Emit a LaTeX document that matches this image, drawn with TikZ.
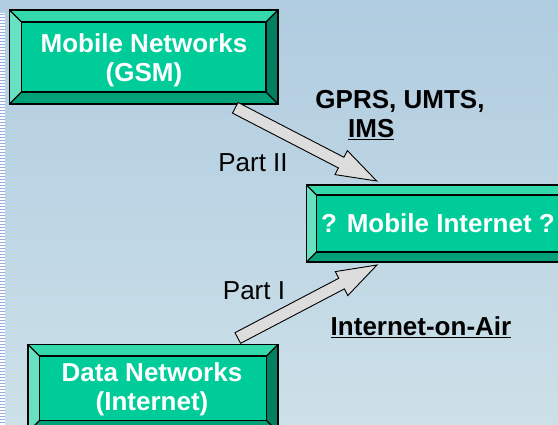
\documentclass[tikz,border=0pt]{standalone}
\usepackage{fontspec}
\setmainfont{Liberation Sans}
\usetikzlibrary{calc}

\definecolor{bgtop}{RGB}{176,204,224}
\definecolor{bgbot}{RGB}{204,224,232}
\definecolor{face}{RGB}{0,204,153}
\definecolor{bevtop}{RGB}{51,217,170}
\definecolor{bevleft}{RGB}{102,226,192}
\definecolor{bevright}{RGB}{0,128,96}
\definecolor{bevbot}{RGB}{0,160,120}
\definecolor{arrowfill}{RGB}{221,221,221}
\definecolor{arrowshade}{RGB}{70,70,70}

\tikzset{
  boxtext/.style={font=\fontsize{26}{29}\selectfont\bfseries, text=white, align=center, inner sep=0pt},
  plaintext/.style={font=\fontsize{26}{29}\selectfont, text=black, inner sep=0pt},
  boldtext/.style={font=\fontsize{26}{29}\selectfont\bfseries, text=black, inner sep=0pt},
  edgeline/.style={draw=black, line width=1.2pt, line join=miter},
  arrowbody/.style={fill=arrowfill, draw=black, line width=0.9pt, line join=miter},
  arrowshadow/.style={fill=arrowshade, draw=none},
}

% bevelled box: #1 name, #2 left, #3 top, #4 right, #5 bottom, #6 bevel width
\newcommand{\bevelbox}[6]{%
  \coordinate (#1-nw) at (#2,#3);
  \coordinate (#1-se) at (#4,#5);
  \fill[bevtop] (#2,#3) -- (#4,#3) -- (#4-#6,#3+#6) -- (#2+#6,#3+#6) -- cycle;
  \fill[bevleft] (#2,#3) -- (#2+#6,#3+#6) -- (#2+#6,#5-#6) -- (#2,#5) -- cycle;
  \fill[bevright] (#4,#3) -- (#4,#5) -- (#4-#6,#5-#6) -- (#4-#6,#3+#6) -- cycle;
  \fill[bevbot] (#2,#5) -- (#4,#5) -- (#4-#6,#5-#6) -- (#2+#6,#5-#6) -- cycle;
  \fill[face] (#2+#6,#3+#6) rectangle (#4-#6,#5-#6);
  \draw[edgeline] (#2,#3) rectangle (#4,#5);
  \draw[edgeline] (#2+#6,#3+#6) rectangle (#4-#6,#5-#6);
  \draw[edgeline] (#2,#3) -- (#2+#6,#3+#6);
  \draw[edgeline] (#4,#3) -- (#4-#6,#3+#6);
  \draw[edgeline] (#4,#5) -- (#4-#6,#5-#6);
  \draw[edgeline] (#2,#5) -- (#2+#6,#5-#6);
}

% block arrow with drop shadow, from coordinate #1 to coordinate #2
\newcommand{\blockarrow}[2]{%
  \coordinate (#1h) at ($(#2)!40pt!(#1)$);
  \fill[arrowshadow, shift={(1.5,4)}]
    ($(#1)!6pt!90:(#2)$) -- ($(#1h)!6pt!90:(#2)$) -- ($(#1h)!13.5pt!90:(#2)$) -- (#2)
    -- ($(#1h)!13.5pt!-90:(#2)$) -- ($(#1h)!6pt!-90:(#2)$) -- ($(#1)!6pt!-90:(#2)$) -- cycle;
  \draw[arrowbody]
    ($(#1)!6pt!90:(#2)$) -- ($(#1h)!6pt!90:(#2)$) -- ($(#1h)!13.5pt!90:(#2)$) -- (#2)
    -- ($(#1h)!13.5pt!-90:(#2)$) -- ($(#1h)!6pt!-90:(#2)$) -- ($(#1)!6pt!-90:(#2)$) -- cycle;
}

\begin{document}
\begin{tikzpicture}[x=1pt, y=-1pt]
  % background
  \useasboundingbox (0,0) rectangle (558,425);
  \shade[top color=bgtop, bottom color=bgbot] (0,0) rectangle (558,425);

  % ruled strip on the left edge
  \fill[white] (0,13) rectangle (4.5,425);
  \foreach \yy in {14.5,17.5,...,425} {
    \draw[bgtop!85!blue, line width=0.9pt] (0,\yy) -- (4.5,\yy);
  }

  % boxes
  \bevelbox{gsm}{9.5}{10}{278}{104}{12}
  \node[boxtext] (gsm) at (144,60) {Mobile Networks\\(GSM)};

  \bevelbox{mi}{306.5}{185}{570}{262}{10}
  \node[boxtext] (mi) at (438,223) {? Mobile Internet ?};

  \bevelbox{dn}{28}{344.5}{278}{432}{11.5}
  \node[boxtext] (dn) at (152,389) {Data Networks\\(Internet)};

  % connectors
  \coordinate (a1s) at (235.3,107.8);
  \coordinate (a1e) at (376.7,181);
  \blockarrow{a1s}{a1e}

  \coordinate (a2s) at (237.8,338);
  \coordinate (a2e) at (377,265);
  \blockarrow{a2s}{a2e}

  % labels
  \node[plaintext] (p2) at (253,163) {Part II};
  \node[plaintext] (p1) at (254,291) {Part I};
  \node[boldtext] (gprs) at (400,101) {GPRS, UMTS,};
  \node[boldtext, anchor=west] (ims) at (348,130) {\underline{IMS}};
  \node[boldtext] (ioa) at (421,327) {\underline{Internet-on-Air}};
\end{tikzpicture}
\end{document}
